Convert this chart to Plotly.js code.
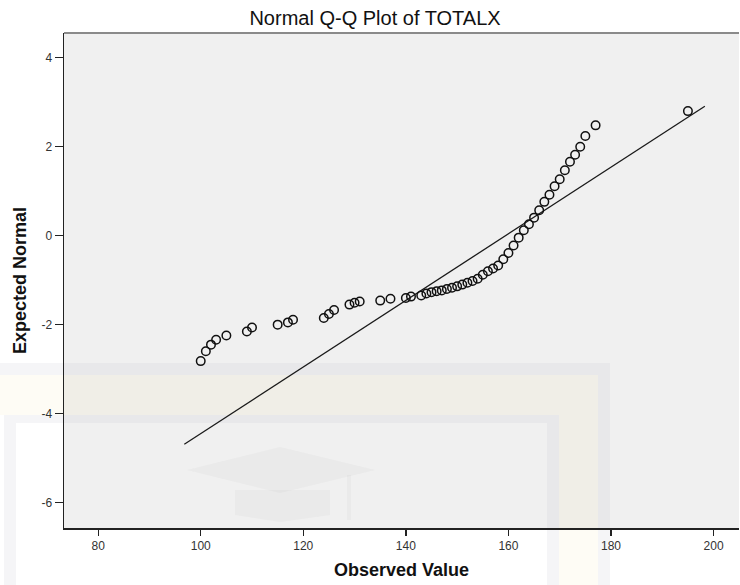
<!DOCTYPE html>
<html>
<head>
<meta charset="utf-8">
<script src="https://cdn.plot.ly/plotly-3.0.1.min.js"></script>
<style>html,body{margin:0;padding:0;background:#fff;}#chart{width:740px;height:585px;}</style>
</head>
<body>
<div id="chart"></div>
<script>
// Observed values (unique values of TOTALX) and their expected normal scores
var observed = [100,101,102,103,105,109,110,115,117,118,124,125,126,129,130,131,135,137,140,141,
  143,144,145,146,147,148,149,150,151,152,153,154,155,156,157,158,159,160,161,162,163,164,165,166,
  167,168,169,170,171,172,173,174,175,177,195];
var expected = [-2.82,-2.60,-2.45,-2.34,-2.245,-2.155,-2.065,-2.0,-1.95,-1.89,-1.85,-1.76,-1.67,-1.55,-1.51,-1.48,-1.46,-1.42,-1.40,-1.37,
  -1.345,-1.30,-1.27,-1.25,-1.23,-1.20,-1.17,-1.14,-1.10,-1.06,-1.02,-0.97,-0.88,-0.80,-0.74,-0.67,-0.53,-0.39,-0.22,-0.045,0.12,0.255,0.405,0.57,
  0.76,0.92,1.11,1.27,1.47,1.66,1.82,2.0,2.24,2.48,2.80];
// Reference line endpoints
var lineX = [96.8, 198.3];
var lineY = [-4.69, 2.91];
// Tick values
var xTicks = [80,100,120,140,160,180,200];
var yTicks = [-6,-4,-2,0,2,4];

var W = 740, H = 585, L = 64, R = 1, T = 33, B = 57;
var pw = W - L - R, ph = H - T - B;
function px(x){ return (x - L) / pw; }
function py(y){ return (H - B - y) / ph; }

var gray = 'rgba(175,175,195,0.13)';
var yel = 'rgba(240,220,130,0.08)';
var cap = 'rgba(170,170,170,0.08)';
function rect(x0,y0,x1,y1,c){
  return {type:'rect', xref:'paper', yref:'paper', x0:px(x0), x1:px(x1), y0:py(y1), y1:py(y0),
    fillcolor:c, line:{width:0}, layer:'below'};
}
function path(pts,c){
  var d = pts.map(function(p,i){ return (i?'L':'M') + px(p[0]) + ',' + py(p[1]); }).join(' ') + ' Z';
  return {type:'path', xref:'paper', yref:'paper', path:d, fillcolor:c, line:{width:0}, layer:'below'};
}
var shapes = [
  // watermark frame
  rect(0,363,610,375,gray),
  rect(598,375,610,585,gray),
  rect(0,375,598,415,yel),
  rect(559,415,598,585,yel),
  rect(4,415,559,423,gray),
  rect(547,423,559,585,gray),
  rect(4,423,16,585,gray),
  // graduation cap
  path([[187,470],[280,447],[375,470],[280,493]],cap),
  path([[235,490],[330,490],[330,515],[280,522],[235,515]],cap),
  rect(347,475,351,520,cap),
  // top border
  {type:'line', xref:'paper', yref:'paper', x0:0, x1:1, y0:1, y1:1, line:{color:'#8a8a8a', width:2}}
];

var data = [
  {x: lineX, y: lineY, type:'scatter', mode:'lines', line:{color:'#1a1a1a', width:1.3}, hoverinfo:'skip', showlegend:false},
  {x: observed, y: expected, type:'scatter', mode:'markers',
   marker:{symbol:'circle-open', size:8.5, color:'#111', line:{width:1.5}}, showlegend:false}
];

var font = 'Liberation Sans, Arial, sans-serif';
var layout = {
  width: W, height: H,
  margin: {l:L, r:R, t:T, b:B, pad:0},
  paper_bgcolor:'#ffffff', plot_bgcolor:'#f0f0f0',
  font:{family:font, color:'#222'},
  title:{text:'Normal Q-Q Plot of TOTALX', font:{family:font, size:20, color:'#111'},
    x:375/W, xanchor:'center', xref:'container', y:1-18/H, yanchor:'middle', yref:'container'},
  xaxis:{range:[73.34,204.96], tickvals:xTicks, ticktext:xTicks.map(String),
    showgrid:false, zeroline:false, showline:true, linecolor:'#222', linewidth:1.5,
    ticks:'outside', ticklen:6, tickcolor:'#222', tickwidth:1.3,
    tickfont:{family:font, size:12, color:'#333'},
    title:{text:'<b>Observed Value</b>', font:{family:font, size:18, color:'#111'}, standoff:11},
    automargin:false, fixedrange:true},
  yaxis:{range:[-6.572,4.556], tickvals:yTicks, ticktext:yTicks.map(String),
    showgrid:false, zeroline:false, showline:true, linecolor:'#222', linewidth:1.5,
    ticks:'outside', ticklen:8, tickcolor:'#222', tickwidth:1.3,
    tickfont:{family:font, size:12, color:'#333'},
    title:{text:'<b>Expected Normal</b>', font:{family:font, size:18, color:'#111'}, standoff:10},
    automargin:false, fixedrange:true},
  shapes: shapes
};

Plotly.newPlot('chart', data, layout, {displayModeBar:false, staticPlot:true});
</script>
</body>
</html>
